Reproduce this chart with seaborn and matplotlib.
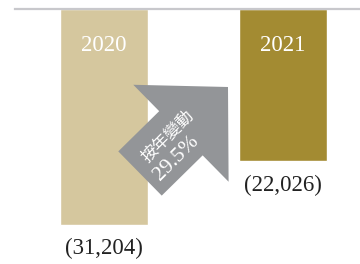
import matplotlib
matplotlib.use('Agg')
import matplotlib.pyplot as plt
from matplotlib.patches import FancyArrow
import seaborn as sns
import pandas as pd

# data
years = ['2020', '2021']
values = [31204, 22026]
change_label = '按年變動'
change_pct = '29.5%'
bar_colors = ['#d5c79e', '#a38b32']

df = pd.DataFrame({'year': years, 'value': values})

sns.set_style('white')
plt.rcParams['font.family'] = ['Liberation Serif', 'Noto Sans CJK TC']

fig = plt.figure(figsize=(3.6, 2.64), dpi=100)
# axes: top edge at y=9px, category centres at 104px and 283px
ax = fig.add_axes([14.5 / 360, 0, 358 / 360, 255 / 264])

sns.barplot(data=df, x='year', y='value', hue='year', palette=bar_colors,
            width=0.49, legend=False, ax=ax, saturation=1)

ax.set_xlim(-0.5, 1.5)
ax.set_ylim(max(values) * 255 / 215.5, 0)
ax.set_xlabel('')
ax.set_ylabel('')
ax.set_xticks([])
ax.set_yticks([])
for s in ['left', 'right', 'bottom']:
    ax.spines[s].set_visible(False)
ax.spines['top'].set_color('#c8c8cc')
ax.spines['top'].set_linewidth(1.6)

for i, (yr, v) in enumerate(zip(years, values)):
    ax.annotate(yr, (i, 0), xytext=(0, -26.5), textcoords='offset points',
                ha='center', va='center', color='white', fontsize=16.5,
                family='Liberation Serif')
    ax.annotate('({:,})'.format(v), (i, v), xytext=(0, -17.5), textcoords='offset points',
                ha='center', va='center', color='#222222', fontsize=16.5,
                family='Liberation Serif')

# overlay in pixel units for the change arrow
ov = fig.add_axes([0, 0, 1, 1])
ov.set_xlim(0, 360)
ov.set_ylim(264, 0)
ov.axis('off')
ov.add_patch(FancyArrow(140, 173.5, 88, -86.5, width=62, head_width=136, head_length=66,
                        length_includes_head=True, color='#939598', lw=0))
ov.text(168, 136, change_label, rotation=45, ha='center', va='center', color='white',
        fontsize=12, family=['Noto Sans CJK TC'], rotation_mode='anchor')
ov.text(176, 158, change_pct, rotation=45, ha='center', va='center', color='white',
        fontsize=15.5, family='Liberation Serif', rotation_mode='anchor')

fig.savefig('out.png', dpi=100)
